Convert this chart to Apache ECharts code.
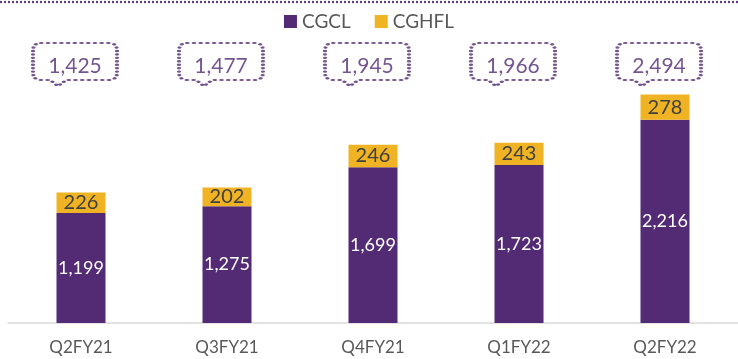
<!DOCTYPE html>
<html>
<head>
<meta charset="utf-8">
<script src="https://cdn.jsdelivr.net/npm/echarts@6/dist/echarts.min.js"></script>
<style>
  html, body { margin: 0; padding: 0; background: #fff; }
  #chart { width: 738px; height: 359px; }
</style>
</head>
<body>
<div id="chart"></div>
<script>
// Quarterly figures for the two entities
const quarters = ['Q2FY21', 'Q3FY21', 'Q4FY21', 'Q1FY22', 'Q2FY22'];
const cgcl = [1199, 1275, 1699, 1723, 2216];
const cghfl = [226, 202, 246, 243, 278];

const PURPLE = '#532a74';
const GOLD = '#f0b323';
const FONT = 'Lato, "Open Sans", sans-serif';

// Combined total per quarter, shown in the dotted callouts
const totals = cgcl.map((v, i) => v + cghfl[i]);
// Level (in axis units) at which the callouts sit above the bars
const calloutLevel = 2820;

// Rounded callout box with a small notch at the bottom-left
const calloutPath = 'path://M8,0 H76 Q84,0 84,8 V29 Q84,37 76,37 H33 L25,43 L17,37 H8 Q0,37 0,29 V8 Q0,0 8,0 Z';

const chart = echarts.init(document.getElementById('chart'), null, { renderer: 'canvas' });

chart.setOption({
  animation: false,
  backgroundColor: '#fff',
  textStyle: { fontFamily: FONT },
  legend: {
    top: 7,
    left: 'center',
    itemWidth: 13,
    itemHeight: 13,
    itemGap: 24,
    icon: 'rect',
    textStyle: { fontSize: 19, color: '#595959', fontFamily: FONT },
    data: ['CGCL', 'CGHFL']
  },
  graphic: [{
    type: 'line',
    shape: { x1: 0, y1: 2, x2: 738, y2: 2 },
    style: { stroke: '#5d3a82', lineWidth: 2.2, lineDash: [2, 2] }
  }],
  grid: { left: 8, right: -6, top: 48, bottom: 36 },
  xAxis: {
    type: 'category',
    data: quarters,
    axisLine: { show: true, lineStyle: { color: '#d9d9d9', width: 1.5 } },
    axisTick: { show: false },
    axisLabel: { color: '#595959', fontSize: 17, margin: 16, fontFamily: FONT }
  },
  yAxis: {
    type: 'value',
    min: 0,
    max: 3000,
    show: false,
    splitLine: { show: false }
  },
  series: [
    {
      name: 'CGCL',
      type: 'bar',
      stack: 'total',
      barWidth: 49,
      data: cgcl,
      itemStyle: { color: PURPLE },
      label: {
        show: true,
        position: 'inside',
        color: '#ffffff',
        fontSize: 18,
        fontFamily: FONT,
        formatter: p => p.value.toLocaleString('en-US')
      }
    },
    {
      name: 'CGHFL',
      type: 'bar',
      stack: 'total',
      barWidth: 49,
      data: cghfl,
      itemStyle: { color: GOLD },
      label: {
        show: true,
        position: 'inside',
        color: '#404040',
        fontSize: 20,
        fontFamily: FONT,
        formatter: p => p.value.toLocaleString('en-US')
      }
    },
    {
      name: 'Total',
      type: 'scatter',
      data: quarters.map(q => ({ value: [q, calloutLevel] })),
      symbol: calloutPath,
      symbolKeepAspect: false,
      symbolSize: [84, 43],
      symbolOffset: [-6, 0],
      itemStyle: {
        color: 'rgba(0,0,0,0)',
        borderColor: '#532a74',
        borderWidth: 3,
        borderType: [0.4, 4.4],
        borderCap: 'round'
      },
      label: {
        show: true,
        position: 'inside',
        offset: [0, 2],
        color: PURPLE,
        fontSize: 21,
        fontFamily: FONT,
        formatter: p => totals[p.dataIndex].toLocaleString('en-US')
      },
      emphasis: { disabled: true },
      z: 5
    }
  ]
});
</script>
</body>
</html>
